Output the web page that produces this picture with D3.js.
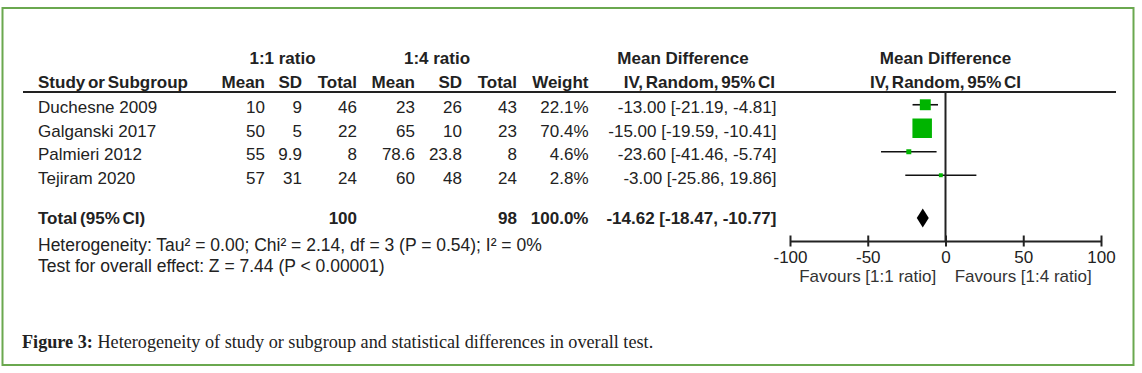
<!DOCTYPE html>
<html>
<head>
<meta charset="utf-8">
<script src="https://cdn.jsdelivr.net/npm/d3@7"></script>
<style>
  body { margin: 0; background: #fff; }
  svg text { font-family: "Liberation Sans", Arial, sans-serif; fill: #222; }
  .bold { font-weight: bold; word-spacing: -2px; }
  .wide { word-spacing: 0px; }
  .caption { font-family: "Liberation Serif", "Times New Roman", serif; }
</style>
</head>
<body>
<div id="myDiv"></div>
<script>
// study rows
var studies = ['Duchesne 2009', 'Galganski 2017', 'Palmieri 2012', 'Tejiram 2020'];
var mean1 = [10, 50, 55, 57];
var sd1 = [9, 5, 9.9, 31];
var total1 = [46, 22, 8, 24];
var mean2 = [23, 65, 78.6, 60];
var sd2 = [26, 10, 23.8, 48];
var total2 = [43, 23, 8, 24];
var weights = [22.1, 70.4, 4.6, 2.8];
var md = [-13.00, -15.00, -23.60, -3.00];
var ciLow = [-21.19, -19.59, -41.46, -25.86];
var ciHigh = [-4.81, -10.41, -5.74, 19.86];

// pooled row
var pooledN1 = 100;
var pooledN2 = 98;
var pooledWeight = 100.0;
var pooledMd = -14.62;
var pooledLow = -18.47;
var pooledHigh = -10.77;

var axisTicks = [-100, -50, 0, 50, 100];
var heterogeneity = 'Heterogeneity: Tau\u00b2 = 0.00; Chi\u00b2 = 2.14, df = 3 (P = 0.54); I\u00b2 = 0%';
var overallTest = 'Test for overall effect: Z = 7.44 (P < 0.00001)';
var favours = ['Favours [1:1 ratio]', 'Favours [1:4 ratio]'];
var captionBold = 'Figure 3:';
var captionText = ' Heterogeneity of study or subgroup and statistical differences in overall test.';

var width = 1142, height = 373;
var fs = 17;
// plain hyphen minus, like the original
function f2(v) { return v.toFixed(2); }

var svg = d3.select('#myDiv').append('svg')
  .attr('width', width)
  .attr('height', height);

// green frame
svg.append('rect')
  .attr('x', 2.5).attr('y', 8)
  .attr('width', 1131).attr('height', 357)
  .attr('fill', 'none')
  .attr('stroke', '#6aa84f')
  .attr('stroke-width', 2);

var x = d3.scaleLinear().domain([-100, 100]).range([790, 1101]);
var y = d3.scaleBand().domain(studies).range([95.5, 189.5]);
var boxSize = d3.scaleSqrt().domain([0, d3.max(weights)]).range([0, 19.5]);

// right edges of table columns
var cols = [
  {key: 'mean1', head: 'Mean', right: 265, vals: mean1},
  {key: 'sd1', head: 'SD', right: 302, vals: sd1},
  {key: 'n1', head: 'Total', right: 357, vals: total1},
  {key: 'mean2', head: 'Mean', right: 415, vals: mean2},
  {key: 'sd2', head: 'SD', right: 462, vals: sd2},
  {key: 'n2', head: 'Total', right: 517, vals: total2},
  {key: 'w', head: 'Weight', right: 588.5, vals: weights.map(function (w) { return w.toFixed(1) + '%'; })},
  {key: 'ci', head: 'IV, Random, 95% CI', right: 776.5, vals: md.map(function (m, i) {
    return f2(m) + ' [' + f2(ciLow[i]) + ', ' + f2(ciHigh[i]) + ']';
  })}
];

function txt(sel, s, xx, yy, anchor, cls) {
  return sel.append('text')
    .attr('x', xx).attr('y', yy)
    .attr('text-anchor', anchor || 'start')
    .attr('class', cls || null)
    .style('font-size', fs + 'px')
    .text(s);
}

// header
var head = svg.append('g');
txt(head, '1:1 ratio', 282.5, 64, 'middle', 'bold wide');
txt(head, '1:4 ratio', 437, 64, 'middle', 'bold wide');
txt(head, 'Mean Difference', 683, 64, 'middle', 'bold wide');
txt(head, 'Mean Difference', x(0), 64, 'middle', 'bold wide');
txt(head, 'Study or Subgroup', 38, 88, 'start', 'bold');
cols.forEach(function (c) {
  txt(head, c.head, c.right - (c.key === 'ci' ? 1.5 : 0), 88, 'end', 'bold');
});
txt(head, 'IV, Random, 95% CI', x(0), 88, 'middle', 'bold');

svg.append('line')
  .attr('x1', 23).attr('x2', 1116)
  .attr('y1', 92).attr('y2', 92)
  .attr('stroke', '#222').attr('stroke-width', 2);

// study rows
var rows = svg.append('g').selectAll('g')
  .data(studies)
  .enter().append('g')
  .attr('transform', function (d) { return 'translate(0,' + (y(d) + y.bandwidth() / 2) + ')'; });

rows.append('text')
  .attr('x', 38).attr('y', 6)
  .style('font-size', fs + 'px')
  .text(function (d) { return d; });

cols.forEach(function (c) {
  rows.append('text')
    .attr('x', c.right).attr('y', 6)
    .attr('text-anchor', 'end')
    .style('font-size', fs + 'px')
    .text(function (d, i) { return c.vals[i]; });
});

// zero line
svg.append('line')
  .attr('x1', x(0)).attr('x2', x(0))
  .attr('y1', 92).attr('y2', 241)
  .attr('stroke', '#222').attr('stroke-width', 2);

// CI whiskers and boxes
rows.append('line')
  .attr('x1', function (d, i) { return x(ciLow[i]); })
  .attr('x2', function (d, i) { return x(ciHigh[i]); })
  .attr('y1', -2.5).attr('y2', -2.5)
  .attr('stroke', '#111').attr('stroke-width', 1.6);

rows.append('rect')
  .attr('x', function (d, i) { return x(md[i]) - boxSize(weights[i]) / 2; })
  .attr('y', function (d, i) { return -2.5 - boxSize(weights[i]) / 2; })
  .attr('width', function (d, i) { return boxSize(weights[i]); })
  .attr('height', function (d, i) { return boxSize(weights[i]); })
  .attr('fill', '#00b400');

// pooled row
var totY = 218;
var tot = svg.append('g');
txt(tot, 'Total (95% CI)', 38, totY + 6, 'start', 'bold');
txt(tot, pooledN1, 357, totY + 6, 'end', 'bold');
txt(tot, pooledN2, 517, totY + 6, 'end', 'bold');
txt(tot, pooledWeight.toFixed(1) + '%', 588.5, totY + 6, 'end', 'bold');
txt(tot, f2(pooledMd) + ' [' + f2(pooledLow) + ', ' + f2(pooledHigh) + ']', 776.5, totY + 6, 'end', 'bold wide');

tot.append('path')
  .attr('d', 'M' + x(pooledLow) + ',' + totY +
    'L' + x(pooledMd) + ',' + (totY - 9.5) +
    'L' + x(pooledHigh) + ',' + totY +
    'L' + x(pooledMd) + ',' + (totY + 9.5) + 'Z')
  .attr('fill', '#000');

// footnotes
txt(svg, heterogeneity, 38, 251, 'start').style('font-size', '17.5px');
txt(svg, overallTest, 38, 272, 'start').style('font-size', '17.5px');

// axis
var axisY = 241;
var axis = svg.append('g')
  .attr('transform', 'translate(0,' + axisY + ')')
  .call(d3.axisBottom(x).tickValues(axisTicks).tickSizeOuter(0)
    .tickFormat(function (d) { return String(d); }));

axis.select('.domain').attr('stroke', '#222').attr('stroke-width', 2);
axis.selectAll('.tick line')
  .attr('y1', -5.5).attr('y2', 5.5)
  .attr('stroke', '#222').attr('stroke-width', 2);
axis.selectAll('.tick text')
  .attr('y', 22).attr('dy', null)
  .style('font-size', '17px')
  .style('font-family', '"Liberation Sans", Arial, sans-serif')
  .attr('fill', '#222');

txt(svg, favours[0], x(-50), 282, 'middle').style('fill', '#333');
txt(svg, favours[1], x(50), 282, 'middle').style('fill', '#333');

// caption
var cap = svg.append('text')
  .attr('class', 'caption')
  .attr('x', 22).attr('y', 348)
  .style('font-size', '18.2px');
cap.append('tspan').style('font-weight', 'bold').text(captionBold);
cap.append('tspan').text(captionText);
</script>
</body>
</html>
